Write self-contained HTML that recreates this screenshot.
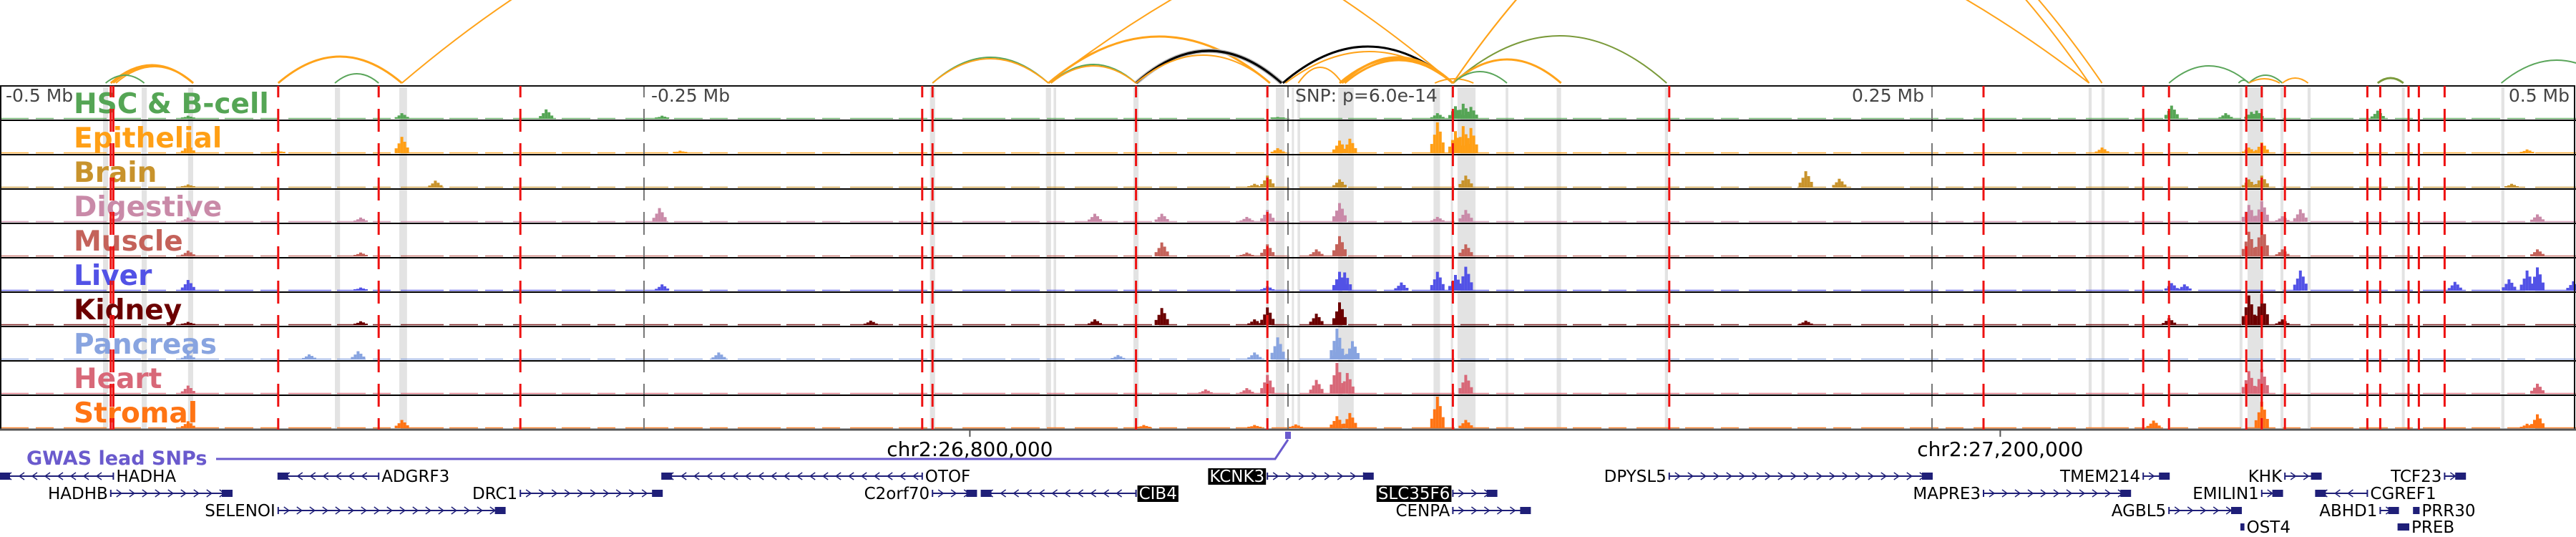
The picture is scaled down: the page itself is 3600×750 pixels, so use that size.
<!DOCTYPE html>
<html><head><meta charset="utf-8">
<style>
html,body{margin:0;padding:0;background:#fff;}
svg{display:block;font-family:"DejaVu Sans","Liberation Sans",sans-serif;}
</style></head>
<body>
<svg id="chart" width="3600" height="750" viewBox="0 0 3600 750" xmlns="http://www.w3.org/2000/svg"></svg>
<script>
// ---------- data ----------
const trackNames = ["HSC & B-cell","Epithelial","Brain","Digestive","Muscle","Liver","Kidney","Pancreas","Heart","Stromal"];
const trackColors = ["#55a555","#ff9f15","#c8932c","#c98aa8","#c4625a","#5252e6","#6b0000","#88a4e0","#d86878","#ff7414"];
// peaks: [position kb, signal 0-100]
const hscPeaks = [[-344,18],[-288,30],[-243,10],[58,18],[65,40],[68,48],[71,38],[343,42],[364,18],[374,22],[376,26],[423,26],[-427,10],[-4,6]];
const epiPeaks = [[-344,52],[58,98],[65,70],[68,86],[71,80],[20,40],[24,46],[-4,16],[378,34],[373,18],[316,18],[-427,26],[-236,8],[481,12],[-392,8]];
const brainPeaks = [[-8,38],[69,38],[20,26],[201,52],[214,28],[378,38],[373,26],[-331,22],[-427,10],[475,12],[-13,12]];
const digPeaks = [[20,60],[-49,26],[-75,26],[-8,38],[69,38],[58,16],[378,66],[373,54],[393,40],[485,24],[-244,44],[386,18],[-427,14],[-360,14],[-16,16]];
const musPeaks = [[20,64],[-49,44],[11,22],[-8,38],[69,38],[373,78],[378,100],[386,22],[485,22],[-427,18],[-360,12],[-16,12]];
const livPeaks = [[20,60],[22,58],[44,26],[58,60],[69,76],[65,50],[393,64],[481,64],[485,74],[474,36],[453,28],[-427,34],[-243,20],[-8,14],[343,24],[348,20],[-360,10],[499,30]];
const kidPeaks = [[20,72],[-49,54],[11,36],[-8,56],[-13,18],[373,94],[378,98],[386,18],[342,22],[-427,10],[-162,14],[-360,12],[-75,18],[201,14]];
const panPeaks = [[-4,70],[19,98],[25,58],[-13,22],[-361,26],[-221,22],[-66,14],[20,40],[-427,18],[-380,16]];
const heartPeaks = [[19,98],[23,66],[11,44],[-8,60],[69,60],[373,72],[378,78],[485,32],[-427,26],[-32,14],[-16,18]];
const stroPeaks = [[58,100],[69,26],[19,38],[24,48],[-344,26],[378,84],[485,44],[336,24],[-427,22],[-56,10],[3,12],[-13,10],[481,14]];
const trackPeaks = [hscPeaks,epiPeaks,brainPeaks,digPeaks,musPeaks,livPeaks,kidPeaks,panPeaks,heartPeaks,stroPeaks];

const redSnps = [-457,-456,-392,-353,-298,-142,-138,-59,-8,64,148,270,332,342,372,378,387,419,424,435,439,449];
const greyRegions = [[-460,-458],[-445,-443],[-427,-425],[-370,-368],[-345,-342],[-139,-137],[-94,-92],[-91,-90],[-60,-58],[-8.5,-7.5],[-4.7,-1.4],[1.5,2.3],[3.7,4.7],[19.5,25.5],[56.5,59],[63.2,64],[65.8,72.8],[84.5,85.5],[104.3,106],[146.3,147.5],[310.8,312],[315.8,317],[369.4,370.5],[372.5,378.6],[385.3,386.4],[395.8,397],[432.4,433.5],[471,472.2]];
const scaleTickKb = [-250,0,250];
const scaleTickLabels = ["-0.25 Mb","SNP: p=6.0e-14","0.25 Mb"];
const arcStart = [-457,-456,-455,-459,-392,-370,-344,-138,-138,-93,-92,-92,-59,-59,-59,-2,-1,20,21,22,4,57,64,64,64,64,64,-93,342,369,373,373,386,423,471];
const arcEnd   = [-425,-425,-425,-444,-344,-353,64,-93,-93,-7,-59,-59,-2.5,-2.5,-7,64,64,64,64,64,21,72,147,106,85,311,316,311,373,373,386,385,396,433,514];
const arcHeight= [25,24,23,11,37,13,312,36,34,65,26,24,45,45,39,51,44,34,36,32,22,6,66,33,16,325,330,280,24,4,11,6,7,7,32];
const arcColor = ["#ffa31a","#ffa31a","#ffa31a","#5aa55a","#ffa31a","#5aa55a","#ffa31a","#5aa55a","#ffa31a","#ffa31a","#5aa55a","#ffa31a","#bbbbbb","#000000","#ffa31a","#000000","#ffa31a","#ffa31a","#ffa31a","#ffa31a","#ffa31a","#ffa31a","#7a9a3a","#ffa31a","#5aa55a","#ffa31a","#ffa31a","#ffa31a","#5aa55a","#5aa55a","#5aa55a","#ffa31a","#ffa31a","#7a9a3a","#5aa55a"];
const arcWidth = [3,2,2,2,3,2,2,2,2,3,2,2,6,3,2,3,2,3,3,3,2,2,2,3,2,2,2,2,2,2,2,2,2,3,2];
const geneNames  = ["HADHA","ADGRF3","OTOF","KCNK3","DPYSL5","TMEM214","KHK","TCF23","HADHB","DRC1","C2orf70","CIB4","SLC35F6","MAPRE3","EMILIN1","CGREF1","SELENOI","CENPA","AGBL5","ABHD1","PRR30","OST4","PREB"];
const geneStart  = [-500,-392,-243,-8,148,332,387,449,-457,-298,-138,-119,64,270,378,399,-392,64,342,424,437,370,431];
const geneEnd    = [-456,-353,-142,33,250,342,401,457,-410,-243,-121,-59,81,327,386,419,-304,94,370,431,439,371,435];
const geneRow    = [0,0,0,0,0,0,0,0,1,1,1,1,1,1,1,1,2,2,2,2,2,3,3];
const geneStrand = [-1,-1,-1,1,1,1,1,1,1,1,1,-1,1,1,1,-1,1,1,1,1,1,1,1];
const geneLabelRight = [1,1,1,0,0,0,0,0,0,0,0,1,0,0,0,1,0,0,0,0,1,1,1];
const geneHighlight  = [0,0,0,1,0,0,0,0,0,0,0,1,1,0,0,0,0,0,0,0,0,0,0];
const coordTickKb = [-123.5,276.5];
const coordLabels = ["chr2:26,800,000","chr2:27,200,000"];

// ---------- helpers ----------
const NS="http://www.w3.org/2000/svg";
const svg=document.getElementById("chart");
const xOf = kb => 1800 + kb*3.6;
const TOP=120, TH=48, NT=10, BOT=TOP+TH*NT;
const yScale = v => v*0.44;
function mk(tag, attrs, parent){const e=document.createElementNS(NS,tag);for(const k in attrs)e.setAttribute(k,attrs[k]);(parent||svg).appendChild(e);return e;}

const gBands=mk("g",{});


greyRegions.forEach(r=>{
  const x1=xOf(r[0]),x2=xOf(r[1]);
  const e=mk("rect",{x:x1,y:TOP+2,width:Math.max(3,x2-x1),height:BOT-TOP-4,fill:"#e3e3e3"},gBands);
  
  
});

for(let t=0;t<NT;t++){
  const base=TOP+TH*(t+1)-2;
  const g=mk("g",{});
  
  
  const bl=mk("line",{x1:0,x2:3600,y1:base-0.5,y2:base-0.5,stroke:trackColors[t],"stroke-width":1.5,"stroke-dasharray":"40 10 25 14 60 8","opacity":0.85},g);
  
  
  trackPeaks[t].forEach(p=>{
    const cx=xOf(p[0]);const h=yScale(p[1]);
    const parts=[[-8,0.3],[-4,0.6],[0,1],[4,0.7],[8,0.35]];
    parts.forEach(q=>{
      const hh=Math.max(2,h*q[1]);
      const b=mk("rect",{x:cx+q[0]-2,y:base-hh,width:4,height:hh,fill:trackColors[t]},g);
      
      
    });
  });
}

scaleTickKb.forEach((kb,i)=>{
  const l=mk("line",{x1:xOf(kb),x2:xOf(kb),y1:TOP,y2:BOT,stroke:"#777","stroke-width":2,"stroke-dasharray":"32 16","stroke-dashoffset":16});
  
  
});

for(let t=1;t<NT;t++){
  const l=mk("line",{x1:0,x2:3600,y1:TOP+TH*t,y2:TOP+TH*t,stroke:"#000","stroke-width":2});
  
  
}
const frame=mk("rect",{x:1,y:TOP,width:3597,height:BOT-TOP,fill:"none",stroke:"#111","stroke-width":2});


const bottomAxis=mk("line",{x1:0,x2:3600,y1:BOT,y2:BOT,stroke:"#555","stroke-width":3});



for(let t=0;t<NT;t++){
  const tx=mk("text",{x:103,y:TOP+TH*t+38,fill:trackColors[t],"font-size":39,"font-weight":"bold"});
  tx.textContent=trackNames[t];
  
  
}

redSnps.forEach(kb=>{
  const l=mk("line",{x1:xOf(kb),x2:xOf(kb),y1:TOP,y2:BOT,stroke:"#ee1111","stroke-width":3,"stroke-dasharray":"32 16","stroke-dashoffset":16});
  
  
});

const t0=mk("text",{x:8,y:142,fill:"#444","font-size":25});
t0.textContent="-0.5 Mb";


const t1=mk("text",{x:3591,y:142,fill:"#444","font-size":25,"text-anchor":"end"});
t1.textContent="0.5 Mb";


scaleTickKb.forEach((kb,i)=>{
  const anchor = kb>0?"end":"start";
  const e=mk("text",{x:kb>0?xOf(kb)-11:xOf(kb)+10,y:142,fill:"#444","font-size":25,"text-anchor":anchor});
  e.textContent=scaleTickLabels[i];
  
  
});

const ARC_BASE=116;
const gArcs=mk("g",{fill:"none"});


arcStart.forEach((s,i)=>{
  const x1=xOf(s),x2=xOf(arcEnd[i]),h=arcHeight[i];
  const p=mk("path",{d:`M${x1} ${ARC_BASE} Q${(x1+x2)/2} ${ARC_BASE-2*h} ${x2} ${ARC_BASE}`,stroke:arcColor[i],"stroke-width":arcWidth[i],fill:"none"},gArcs);
  
  
});

coordLabels.forEach((s,i)=>{
  const tickKb = coordTickKb[i];
  const tk=mk("line",{x1:xOf(tickKb),x2:xOf(tickKb),y1:BOT,y2:BOT+10,stroke:"#555","stroke-width":2});
  
  
  const e=mk("text",{x:xOf(tickKb),y:637,fill:"#000","font-size":28,"text-anchor":"middle"});
  e.textContent=s;
  
  
});

const gw=mk("text",{x:37,y:649,fill:"#6a5acd","font-size":27,"font-weight":"bold"});
gw.textContent="GWAS lead SNPs";


const gwl=mk("polyline",{points:`302,641 ${xOf(-5)},641 ${xOf(0)},614`,fill:"none",stroke:"#6a5acd","stroke-width":3});


const gwm=mk("rect",{x:xOf(0)-4,y:603,width:8,height:10,fill:"#6a5acd"});



const rowY=[665,689,713,736];
geneNames.forEach((n,i)=>{
  const g=mk("g",{});
  
  
  const x1=xOf(geneStart[i]),x2=xOf(geneEnd[i]),y=rowY[geneRow[i]];
  const c="#1f1f78";
  mk("line",{x1:x1,x2:x2,y1:y,y2:y,stroke:c,"stroke-width":2},g);
  mk("line",{x1:x1,x2:x1,y1:y-5,y2:y+5,stroke:c,"stroke-width":2},g);
  mk("line",{x1:x2,x2:x2,y1:y-5,y2:y+5,stroke:c,"stroke-width":2},g);
  for(let x=x1+12;x<x2-8;x+=18){
    const d=geneStrand[i]>0?`M${x-4} ${y-5} L${x+3} ${y} L${x-4} ${y+5}`:`M${x+4} ${y-5} L${x-3} ${y} L${x+4} ${y+5}`;
    mk("path",{d:d,stroke:c,"stroke-width":1.5,fill:"none"},g);
  }
  const ex = geneStrand[i]>0 ? x2-Math.min(14,x2-x1) : x1;
  mk("rect",{x:ex,y:y-5,width:Math.min(14,Math.max(3,x2-x1)),height:10,fill:c},g);
  const lx = geneLabelRight[i] ? x2+4 : x1-4;
  const anchor = geneLabelRight[i] ? "start":"end";
  const tx=mk("text",{x:lx,y:y+8,"font-size":23,"text-anchor":anchor,fill:geneHighlight[i]?"#fff":"#000"},g);
  tx.textContent=n;
  if(geneHighlight[i]){
    const bb=tx.getBBox();
    const r=mk("rect",{x:bb.x-2,y:y-11,width:bb.width+4,height:23,fill:"#000"});
    g.insertBefore(r,tx);
  }
});
</script>
</body></html>
